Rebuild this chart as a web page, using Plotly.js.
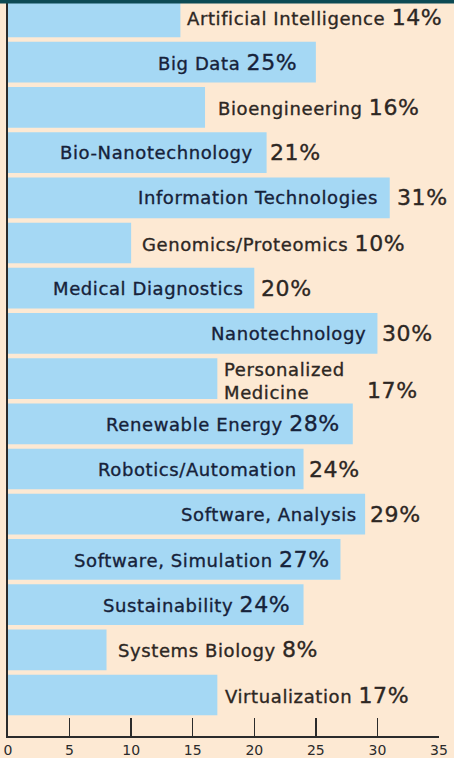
<!DOCTYPE html>
<html>
<head>
<meta charset="utf-8">
<script src="https://cdn.plot.ly/plotly-3.0.1.min.js"></script>
<style>
html,body{margin:0;padding:0;background:#fde9d3;}
#chart{width:454px;height:758px;}
text.annotation-text{letter-spacing:0.6px;}
</style>
</head>
<body>
<div id="chart"></div>
<script>
// ---- data ----
const categories = [
  'Artificial Intelligence','Big Data','Bioengineering','Bio-Nanotechnology',
  'Information Technologies','Genomics/Proteomics','Medical Diagnostics','Nanotechnology',
  'Personalized Medicine','Renewable Energy','Robotics/Automation','Software, Analysis',
  'Software, Simulation','Sustainability','Systems Biology','Virtualization'
];
const shares = [14,25,16,21,31,10,20,30,17,28,24,29,27,24,8,17];
const xTickValues = [0,5,10,15,20,25,30,35];
const xTickLabels = ['0','5','10','15','20','25','30','35'];

// ---- label placement (style only) ----
// out: name+pct after bar end; in: name+pct inside bar, right aligned; split: name inside, pct outside; two: two-line name outside
const labelMode = ['out','in','out','split','split','out','split','split','two','in','split','split','in','in','out','out'];
const labelShift = [[6.6],[-19],[13],[-13.6,3.4],[-11.7,7.3],[11],[-10.3,6.7],[-11.4,4.6],[7,150],[-13],[-6.5,5.5],[-8,5],[-10.5],[-13.5],[11.5],[8]];

const FONT = 'DejaVu Sans, Verdana, sans-serif';
const NAME_SIZE = 18, PCT_SIZE = 22;
const COL_IN = '#16223a', COL_OUT = '#2d2723';
const BAR_COL = '#a5d8f4';
const BG = '#fde9d3';

const pctText = v => v + '%';
const annotations = [];
categories.forEach((c, i) => {
  const v = shares[i], m = labelMode[i], s = labelShift[i];
  const base = {x: v, y: c, xref: 'x', yref: 'y', showarrow: false, borderpad: 0, borderwidth: 0,
                font: {family: FONT, size: NAME_SIZE, color: COL_OUT}};
  if (m === 'out') {
    annotations.push(Object.assign({}, base, {
      text: c + ' <span style="font-size:' + PCT_SIZE + 'px">' + pctText(v) + '</span>',
      xanchor: 'left', align: 'left', xshift: s[0]}));
  } else if (m === 'in') {
    annotations.push(Object.assign({}, base, {
      text: c + ' <span style="font-size:' + PCT_SIZE + 'px">' + pctText(v) + '</span>',
      xanchor: 'right', align: 'right', xshift: s[0], font: {family: FONT, size: NAME_SIZE, color: COL_IN}}));
  } else if (m === 'split') {
    annotations.push(Object.assign({}, base, {text: c, xanchor: 'right', align: 'right', xshift: s[0],
      font: {family: FONT, size: NAME_SIZE, color: COL_IN}}));
    annotations.push(Object.assign({}, base, {text: pctText(v), xanchor: 'left', align: 'left', xshift: s[1],
      font: {family: FONT, size: PCT_SIZE, color: COL_OUT}}));
  } else if (m === 'two') {
    annotations.push(Object.assign({}, base, {text: c.replace(' ', '<br>'), xanchor: 'left', align: 'left',
      xshift: s[0], yshift: -2}));
    annotations.push(Object.assign({}, base, {text: pctText(v), xanchor: 'left', align: 'left', xshift: s[1],
      yshift: -12, font: {family: FONT, size: PCT_SIZE, color: COL_OUT}}));
  }
});

const trace = {
  type: 'bar', orientation: 'h',
  x: shares, y: categories,
  marker: {color: BAR_COL, line: {width: 0}},
  hoverinfo: 'none'
};

const layout = {
  width: 454, height: 758,
  margin: {l: 8, r: 15, t: 0, b: 22, pad: 0},
  paper_bgcolor: BG, plot_bgcolor: BG,
  bargap: 0.1,
  showlegend: false,
  xaxis: {
    range: [0, 35], tickvals: xTickValues, ticktext: xTickLabels,
    ticks: 'inside', ticklen: 18, tickwidth: 1.5, tickcolor: '#2b2b2b',
    showline: true, linewidth: 2, linecolor: '#2b2b2b',
    showgrid: false, zeroline: false, fixedrange: true,
    tickfont: {family: FONT, size: 14, color: '#2b2b2b'}
  },
  yaxis: {
    type: 'category', categoryorder: 'array', categoryarray: categories,
    range: [15.907, -0.376],
    showline: true, linewidth: 2, linecolor: '#2b2b2b',
    showticklabels: false, ticks: '', showgrid: false, zeroline: false, fixedrange: true
  },
  shapes: [{
    type: 'rect', xref: 'paper', yref: 'paper', layer: 'above',
    x0: -0.02, x1: 1.04, y0: 1 - 3.5/736, y1: 1.001,
    fillcolor: '#0d4a54', line: {width: 0}
  }],
  annotations: annotations
};

Plotly.newPlot('chart', [trace], layout, {displayModeBar: false, staticPlot: true}).then(gd => {
  // slightly heavier text weight, like the printed original
  gd.querySelectorAll('text.annotation-text').forEach(t => {
    const f = t.style.fill || window.getComputedStyle(t).fill;
    t.style.stroke = f;
    t.style.strokeWidth = '0.35px';
  });
});
</script>
</body>
</html>
